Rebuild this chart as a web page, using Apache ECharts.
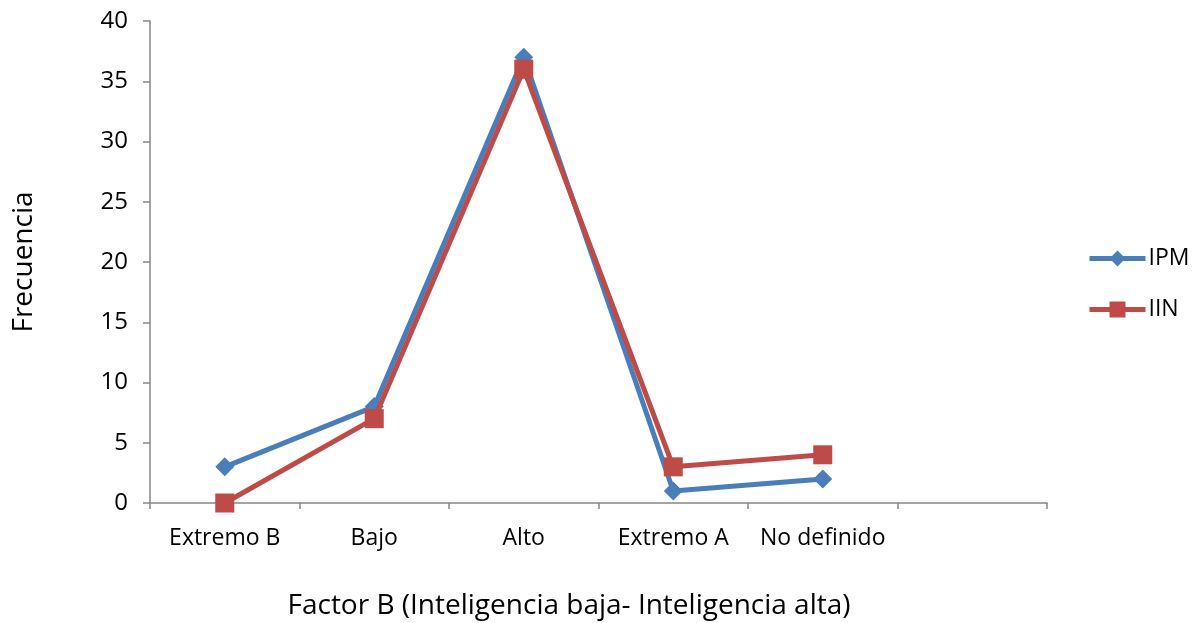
<!DOCTYPE html>
<html><head><meta charset="utf-8">
<script src="https://cdn.jsdelivr.net/npm/echarts@6/dist/echarts.min.js"></script>
<style>html,body{margin:0;padding:0;background:#fff}#c{width:1197px;height:623px}</style>
</head><body><div id="c"></div>
<script>
const categories = ['Extremo B', 'Bajo', 'Alto', 'Extremo A', 'No definido', ''];
const ipm = [3, 8, 37, 1, 2];
const iin = [0, 7, 36, 3, 4];
const yTicks = {min: 0, max: 40, interval: 5};
const xTitle = 'Factor B (Inteligencia baja- Inteligencia alta)';
const yTitle = 'Frecuencia';

const font = '"Open Sans", "Liberation Sans", sans-serif';
const axisColor = '#868686';
const chart = echarts.init(document.getElementById('c'), null, {renderer: 'canvas'});
chart.setOption({
  animation: false,
  backgroundColor: '#fff',
  grid: {left: 150, right: 150, top: 21, bottom: 120},
  legend: {
    orient: 'vertical', left: 1087, top: 247, itemGap: 28, padding: 0,
    itemWidth: 56, itemHeight: 20,
    lineStyle: {width: 5},
    textStyle: {fontFamily: font, fontSize: 23, lineHeight: 20, color: '#000', padding: [0, 0, 0, -2]},
    data: ['IPM', 'IIN']
  },
  xAxis: {
    type: 'category', data: categories, boundaryGap: true,
    axisLine: {lineStyle: {color: axisColor, width: 1.5}},
    axisTick: {show: true, length: 6, lineStyle: {color: axisColor, width: 1.5}},
    axisLabel: {fontFamily: font, fontSize: 23, color: '#000', margin: 24, interval: 0},
    splitLine: {show: false}
  },
  yAxis: {
    type: 'value', min: yTicks.min, max: yTicks.max, interval: yTicks.interval,
    name: yTitle, nameLocation: 'middle', nameGap: 112,
    nameTextStyle: {fontFamily: font, fontSize: 28, color: '#000'},
    axisLine: {show: true, lineStyle: {color: axisColor, width: 1.5}},
    axisTick: {show: true, length: 7, lineStyle: {color: axisColor, width: 1.5}},
    axisLabel: {fontFamily: font, fontSize: 24, color: '#000', margin: 22},
    splitLine: {show: false}
  },
  graphic: [{
    type: 'text', x: 569, y: 606,
    style: {text: xTitle, font: '28px ' + font, fill: '#000', align: 'center', verticalAlign: 'middle'}
  }],
  series: [
    {name: 'IPM', type: 'line', data: ipm, symbol: 'diamond', symbolSize: 19,
     lineStyle: {color: '#4A7EBB', width: 5}, itemStyle: {color: '#4A7EBB'}, z: 2},
    {name: 'IIN', type: 'line', data: iin, symbol: 'rect', symbolSize: 19,
     lineStyle: {color: '#BE4B48', width: 5}, itemStyle: {color: '#BE4B48'}, z: 3}
  ]
});
</script></body></html>
